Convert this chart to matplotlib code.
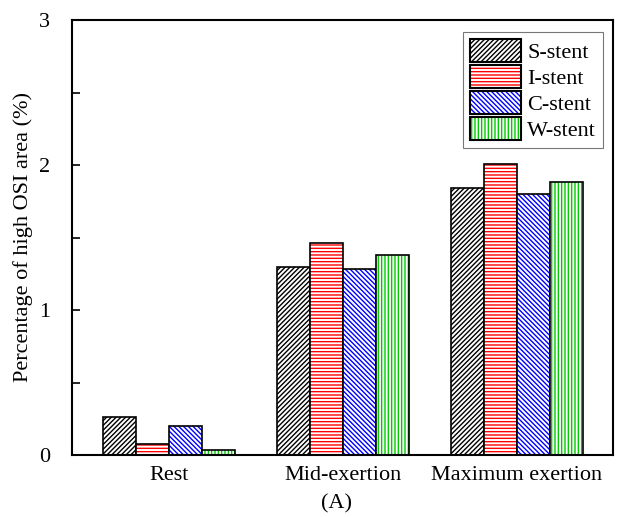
import matplotlib
matplotlib.use("Agg")
import matplotlib.pyplot as plt
import numpy as np
from matplotlib.patches import Patch
from matplotlib.legend_handler import HandlerTuple

plt.rcParams['font.family'] = ['Liberation Serif', 'DejaVu Serif']
plt.rcParams['hatch.linewidth'] = 1.0

categories = ["Rest", "Mid-exertion", "Maximum exertion"]
series_names = ["S-stent", "I-stent", "C-stent", "W-stent"]
s_stent = [0.26, 1.30, 1.84]
i_stent = [0.075, 1.46, 2.01]
c_stent = [0.20, 1.28, 1.80]
w_stent = [0.035, 1.38, 1.88]
values = [s_stent, i_stent, c_stent, w_stent]
colors = ["black", "red", "blue", "#00cc00"]
hatches = ["///////", "-----", "\\\\\\\\\\\\\\", "|||||"]
yticks = [0, 1, 2, 3]

fig = plt.figure(figsize=(6.21, 5.17), dpi=100)
ax = fig.add_axes([72/621, 1-455/517, (613-72)/621, (455-20)/517])

x = np.arange(len(categories))
w = 0.189
handles = []
for k, (vals, col, h) in enumerate(zip(values, colors, hatches)):
    pos = x + (k - 1.5) * w
    ax.bar(pos, vals, w, facecolor="white", edgecolor=col, hatch=h, linewidth=0)
    ax.bar(pos, vals, w, facecolor="none", edgecolor="black", linewidth=1.2)
    hp = Patch(facecolor="white", edgecolor=col, hatch=h, linewidth=0)
    bp = Patch(facecolor="none", edgecolor="black", linewidth=1.5)
    handles.append((hp, bp))

ax.set_xlim(-0.557, 2.552)
ax.set_ylim(0, 3)
ax.set_xticks(x)
ax.set_xticklabels(categories, fontsize=16)
ax.tick_params(axis='x', length=0, pad=8)
ax.set_yticks(yticks)
ax.set_yticklabels([str(t) for t in yticks], fontsize=16)
ax.set_yticks([0.5, 1.5, 2.5], minor=True)
ax.tick_params(axis='y', which='major', direction='in', length=6, width=1.2, pad=16)
ax.tick_params(axis='y', which='minor', direction='in', length=6, width=1.2)
for sp in ax.spines.values():
    sp.set_linewidth(1.5)
ax.set_ylabel("Percentage of high OSI area (%)", fontsize=16)
ax.yaxis.set_label_coords(-(72-33)/541, 0.5)

leg = ax.legend(handles, series_names, handler_map={tuple: HandlerTuple(ndivide=1)},
                loc="upper right", fontsize=16, frameon=True, fancybox=False,
                edgecolor="#555555", handlelength=2.3, handleheight=1.22,
                borderpad=0.3, labelspacing=0.1, handletextpad=0.3,
                borderaxespad=0.0,
                bbox_to_anchor=((603-72)/541, (455-32)/435))
leg.get_frame().set_linewidth(0.8)

fig.text(337/621, 1-504/517, "(A)", ha="center", va="center", fontsize=16)

fig.savefig("out.png", dpi=100)
